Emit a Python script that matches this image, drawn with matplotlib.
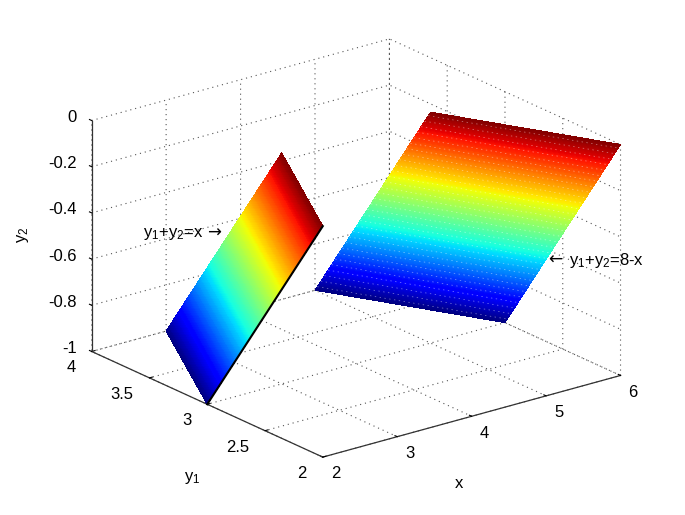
import numpy as np
import matplotlib
matplotlib.use('Agg')
import matplotlib.pyplot as plt
from mpl_toolkits.mplot3d import proj3d

plt.rcParams['font.family'] = ['Liberation Sans', 'DejaVu Sans']
plt.rcParams['mathtext.fontset'] = 'custom'
plt.rcParams['mathtext.rm'] = 'Liberation Sans'
plt.rcParams['mathtext.default'] = 'rm'

# plane ranges
x_left = [2, 3]
x_right = [5, 6]
z_levels = np.linspace(-1, 0, 220)
x_ticks = [2, 3, 4, 5, 6]
y_ticks = [2, 2.5, 3, 3.5, 4]
z_ticks = [-1, -0.8, -0.6, -0.4, -0.2, 0]
x_labels = ['2', '3', '4', '5', '6']
y_labels = ['2', '2.5', '3', '3.5', '4']
z_labels = ['-1', '-0.8', '-0.6', '-0.4', '-0.2', '0']
W, H = 685, 515

fig = plt.figure(figsize=(W / 100, H / 100), dpi=100)
# big square axes, so the surfaces do not get clipped by the box
side = 800
ax = fig.add_axes([(345.3 - side / 2) / W, (H - 258.8 - side / 2) / H, side / W, side / H],
                  projection='3d', proj_type='ortho')
ax.view_init(elev=20.73, azim=-127.76)
ax.set_box_aspect((378.2, 379, 248), zoom=0.713)
ax.set_xlim(2, 6)
ax.set_ylim(2, 4)
ax.set_zlim(-1, 0)
ax.computed_zorder = False

# y1+y2=x
X, Z = np.meshgrid(x_left, z_levels)
Y = X - Z
ax.plot_surface(X, Y, Z, facecolors=plt.cm.jet((Z + 1)), rstride=1, cstride=1,
                shade=False, antialiased=False, linewidth=0, zorder=3)
ax.plot([2, 2], [3, 2], [-1, 0], color='k', lw=1.5, zorder=4)

# y1+y2=8-x
X2, Z2 = np.meshgrid(x_right, z_levels)
Y2 = 8 - X2 - Z2
ax.plot_surface(X2, Y2, Z2, facecolors=plt.cm.jet((Z2 + 1)), rstride=1, cstride=1,
                shade=False, antialiased=False, linewidth=0, zorder=3)
# speckle from the original mesh
for z in np.linspace(-0.98, -0.02, 32):
    ax.plot([5, 6], [3 - z, 2 - z], [z, z], color='w', lw=0.5, alpha=0.5,
            ls=(0, (2, 5)), zorder=4)

for axis in (ax.xaxis, ax.yaxis, ax.zaxis):
    axis.set_pane_color((1, 1, 1, 0))
    axis.pane.set_edgecolor('none')
    axis.line.set_color('#333333')
    axis.line.set_linewidth(0.9)
    axis._axinfo['grid'].update(color='#555555', linewidth=0.8, linestyle=(0, (1, 3.5)))
    axis._axinfo['tick'].update(inward_factor=0.0, outward_factor=0.12)
# z ticks run along y, like in the original
ax.zaxis._get_tickdir = lambda pos: 1

ax.set_xticks(x_ticks, [])
ax.set_yticks(y_ticks, [])
ax.set_zticks(z_ticks, [])


def label3d(x, y, z, s, ha):
    # tick labels by hand, mplot3d's own padding can't put them there
    px, py, _ = proj3d.proj_transform(x, y, z, ax.get_proj())
    ax.text2D(px, py, s, fontsize=12, ha=ha, va='center', transform=ax.transData)


for v, s in zip(x_ticks, x_labels):
    label3d(v, 2 - 0.11, -1 - 0.048, s, 'center')
for v, s in zip(y_ticks, y_labels):
    label3d(2 - 0.215, v, -1 - 0.052, s, 'right')
for v, s in zip(z_ticks, z_labels):
    label3d(2, 4 + 0.13, v - 0.017, s, 'right')

fig.text(459 / W, 1 - 483 / H, 'x', fontsize=12, ha='center', va='center')
fig.text(192 / W, 1 - 478 / H, r'$y_1$', fontsize=12, ha='center', va='center')
fig.text(23 / W, 1 - 235 / H, r'$y_2$', fontsize=12, ha='center', va='center', rotation=90)
fig.text(143 / W, 1 - 234 / H, r'$y_1\text{+}y_2\text{=x}$', fontsize=12, ha='left', va='center')
fig.text(214 / W, 1 - 233 / H, '→', fontsize=12, ha='center', va='center', family='DejaVu Sans')
fig.text(555 / W, 1 - 260 / H, '←', fontsize=12, ha='center', va='center', family='DejaVu Sans')
fig.text(569 / W, 1 - 261 / H, r'$y_1\text{+}y_2\text{=8-x}$', fontsize=12, ha='left', va='center')

fig.savefig('out.png', dpi=100)
